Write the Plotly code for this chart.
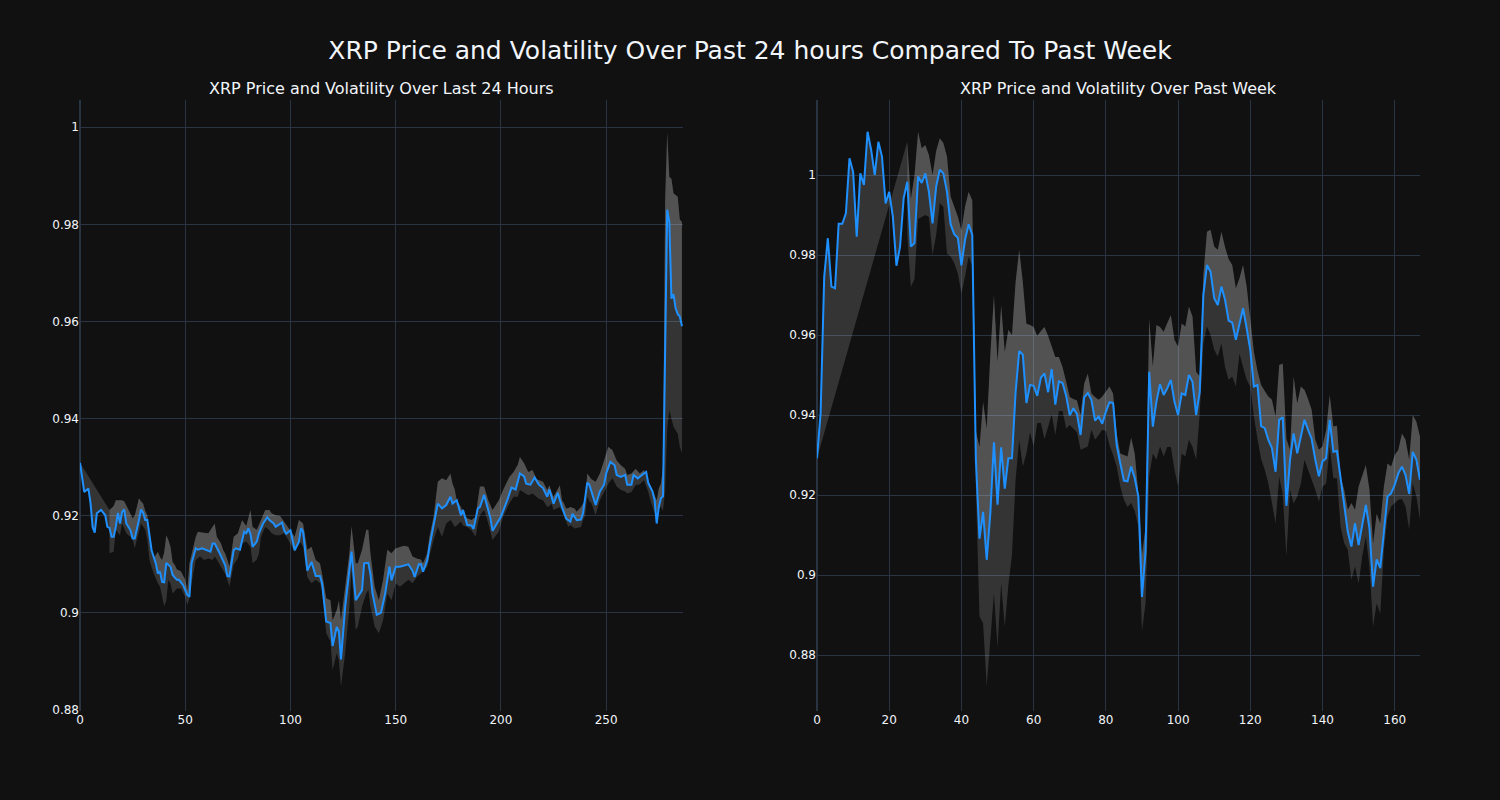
import plotly.graph_objects as go
from plotly.subplots import make_subplots

# ---------------- Last 24 hours (left) ----------------
day_x = [0, 2, 4, 5, 6, 7, 8, 10, 12, 13, 14, 15, 16, 17, 18, 19, 20, 21, 22, 24, 25, 26, 28, 29, 30, 31, 32,
         34, 36, 37, 38, 39, 40, 41, 43, 44, 46, 47, 49, 51, 52, 53, 55, 56, 58, 60, 62, 63, 64, 66, 67, 69, 70,
         71, 73, 74, 76, 78, 79, 80, 81, 82, 84, 85, 87, 89, 90, 92, 93, 96, 97, 98, 100, 102, 104, 105, 106,
         108, 110, 112, 114, 115, 117, 119, 120, 122, 123, 124, 126, 129, 131, 134, 135, 137, 138, 139, 141,
         143, 145, 147, 148, 150, 152, 156, 158, 159, 161, 162, 163, 165, 166, 168, 170, 172, 174, 176, 177,
         179, 181, 182, 184, 186, 187, 189, 190, 192, 194, 195, 196, 198, 200, 203, 205, 207, 209, 211, 212,
         214, 216, 218, 220, 222, 223, 225, 227, 229, 231, 233, 234, 236, 238, 239, 241, 242, 244, 245, 247,
         249, 250, 252, 254, 255, 257, 259, 260, 262, 263, 265, 267, 269, 270, 272, 273, 274, 275, 276, 277,
         279, 280, 281, 282, 283, 284, 285, 286]
day_price = [0.9309, 0.9249, 0.9256, 0.9226, 0.9177, 0.9165, 0.9205, 0.9212, 0.9201, 0.9177, 0.9175, 0.9157,
             0.9157, 0.9177, 0.9206, 0.9184, 0.9208, 0.9213, 0.9184, 0.9170, 0.9153, 0.9153, 0.9191, 0.9213,
             0.9206, 0.9191, 0.9191, 0.9129, 0.9102, 0.9081, 0.9085, 0.9064, 0.9063, 0.9103, 0.9095, 0.9078,
             0.9068, 0.9068, 0.9057, 0.9037, 0.9033, 0.9102, 0.9133, 0.9130, 0.9133, 0.9130, 0.9126, 0.9143,
             0.9143, 0.9126, 0.9116, 0.9098, 0.9076, 0.9075, 0.9129, 0.9133, 0.9130, 0.9167, 0.9164, 0.9174,
             0.9162, 0.9136, 0.9147, 0.9164, 0.9184, 0.9197, 0.9191, 0.9184, 0.9177, 0.9186, 0.9170, 0.9163,
             0.9170, 0.9129, 0.9146, 0.9174, 0.9167, 0.9087, 0.9105, 0.9076, 0.9076, 0.9061, 0.8982, 0.8979,
             0.8932, 0.8971, 0.8962, 0.8904, 0.9013, 0.9126, 0.9026, 0.9047, 0.9102, 0.9103, 0.9080, 0.9040,
             0.8996, 0.9000, 0.9040, 0.9095, 0.9067, 0.9095, 0.9095, 0.9100, 0.9087, 0.9074, 0.9100, 0.9100,
             0.9085, 0.9108, 0.9136, 0.9181, 0.9225, 0.9215, 0.9222, 0.9239, 0.9225, 0.9232, 0.9201, 0.9212,
             0.9181, 0.9180, 0.9173, 0.9215, 0.9218, 0.9243, 0.9212, 0.9195, 0.9169, 0.9184, 0.9198, 0.9232,
             0.9258, 0.9254, 0.9287, 0.9281, 0.9266, 0.9264, 0.9279, 0.9264, 0.9257, 0.9239, 0.9254, 0.9225,
             0.9247, 0.9218, 0.9194, 0.9188, 0.9204, 0.9191, 0.9192, 0.9205, 0.9268, 0.9264, 0.9239, 0.9222,
             0.9250, 0.9264, 0.9287, 0.9311, 0.9304, 0.9284, 0.9280, 0.9284, 0.9264, 0.9264, 0.9284, 0.9277,
             0.9284, 0.9290, 0.9267, 0.9250, 0.9232, 0.9184, 0.9218, 0.9236, 0.9240, 0.9830, 0.9805, 0.9647,
             0.9656, 0.9627, 0.9615, 0.9610, 0.9590, 0.9568]

day_band_x = [14, 16, 17, 19, 20, 21, 22, 23, 25, 26, 28, 29, 30, 31, 32, 33, 34, 35, 37, 38, 39, 40, 41, 42,
              43, 44, 45, 46, 47, 48, 50, 51, 52, 53, 55, 56, 57, 59, 61, 63, 64, 65, 66, 67, 68, 69, 70, 71,
              73, 75, 77, 79, 81, 82, 84, 85, 86, 88, 90, 91, 93, 95, 97, 99, 102, 104, 106, 108, 110, 112,
              114, 115, 117, 119, 120, 122, 123, 124, 126, 128, 129, 131, 132, 134, 136, 137, 138, 140, 142,
              144, 146, 148, 150, 152, 154, 156, 158, 160, 162, 163, 165, 166, 168, 170, 172, 174, 176, 177,
              178, 179, 181, 182, 184, 186, 188, 189, 190, 192, 194, 196, 199, 201, 204, 206, 208, 209, 211,
              213, 215, 217, 218, 220, 222, 223, 224, 225, 228, 229, 230, 231, 232, 233, 235, 236, 238, 239,
              240, 241, 242, 243, 245, 247, 249, 251, 253, 255, 257, 259, 260, 262, 264, 266, 268, 270, 271,
              273, 274, 275, 276, 277, 278, 279, 280, 281, 282, 284, 285, 286]
day_upper = [0.9212, 0.9220, 0.9232, 0.9232, 0.9232, 0.9230, 0.9222, 0.9212, 0.9195, 0.9200, 0.9236, 0.9230,
             0.9225, 0.9210, 0.9201, 0.9165, 0.9133, 0.9112, 0.9126, 0.9115, 0.9109, 0.9125, 0.9160, 0.9150,
             0.9136, 0.9105, 0.9099, 0.9090, 0.9088, 0.9085, 0.9068, 0.9047, 0.9102, 0.9120, 0.9157, 0.9167,
             0.9166, 0.9165, 0.9164, 0.9177, 0.9184, 0.9157, 0.9150, 0.9143, 0.9130, 0.9122, 0.9110, 0.9095,
             0.9157, 0.9164, 0.9191, 0.9179, 0.9212, 0.9177, 0.9171, 0.9180, 0.9191, 0.9212, 0.9212, 0.9205,
             0.9201, 0.9200, 0.9188, 0.9174, 0.9157, 0.9191, 0.9184, 0.9130, 0.9136, 0.9109, 0.9102, 0.9081,
             0.9030, 0.9026, 0.8985, 0.9006, 0.9026, 0.8985, 0.9054, 0.9123, 0.9179, 0.9102, 0.9102, 0.9130,
             0.9171, 0.9171, 0.9123, 0.9054, 0.9026, 0.9068, 0.9130, 0.9123, 0.9133, 0.9136, 0.9138, 0.9136,
             0.9116, 0.9112, 0.9110, 0.9102, 0.9123, 0.9157, 0.9198, 0.9270, 0.9277, 0.9273, 0.9287, 0.9266,
             0.9255, 0.9232, 0.9218, 0.9205, 0.9195, 0.9191, 0.9198, 0.9232, 0.9260, 0.9260, 0.9232, 0.9212,
             0.9232, 0.9253, 0.9280, 0.9290, 0.9305, 0.9321, 0.9308, 0.9290, 0.9294, 0.9275, 0.9273, 0.9270,
             0.9253, 0.9263, 0.9250, 0.9239, 0.9263, 0.9232, 0.9225, 0.9215, 0.9216, 0.9218, 0.9215, 0.9208,
             0.9218, 0.9225, 0.9232, 0.9287, 0.9280, 0.9275, 0.9270, 0.9287, 0.9314, 0.9342, 0.9335, 0.9314,
             0.9304, 0.9297, 0.9284, 0.9287, 0.9297, 0.9287, 0.9294, 0.9273, 0.9260, 0.9240, 0.9232, 0.9256,
             0.9266, 0.9300, 0.9850, 0.9990, 0.9898, 0.9894, 0.9864, 0.9857, 0.9810, 0.9805]
day_lower = [0.9123, 0.9126, 0.9171, 0.9160, 0.9184, 0.9175, 0.9164, 0.9160, 0.9153, 0.9133, 0.9164, 0.9184,
             0.9178, 0.9171, 0.9150, 0.9109, 0.9095, 0.9081, 0.9061, 0.9054, 0.9035, 0.9013, 0.9026, 0.9068,
             0.9060, 0.9040, 0.9045, 0.9050, 0.9050, 0.9050, 0.9033, 0.9016, 0.9030, 0.9061, 0.9109, 0.9112,
             0.9116, 0.9109, 0.9112, 0.9109, 0.9116, 0.9110, 0.9102, 0.9095, 0.9088, 0.9080, 0.9068, 0.9054,
             0.9099, 0.9112, 0.9143, 0.9147, 0.9136, 0.9102, 0.9110, 0.9122, 0.9157, 0.9177, 0.9170, 0.9164,
             0.9160, 0.9160, 0.9164, 0.9150, 0.9126, 0.9150, 0.9136, 0.9074, 0.9061, 0.9068, 0.9061, 0.9047,
             0.8958, 0.8941, 0.8882, 0.8917, 0.8903, 0.8848, 0.8917, 0.9013, 0.9088, 0.8965, 0.8972, 0.9013,
             0.9040, 0.9047, 0.9013, 0.8972, 0.8958, 0.8985, 0.9040, 0.9026, 0.9061, 0.9054, 0.9061, 0.9068,
             0.9061, 0.9074, 0.9081, 0.9085, 0.9095, 0.9116, 0.9150, 0.9177, 0.9157, 0.9184, 0.9191, 0.9185,
             0.9177, 0.9180, 0.9188, 0.9180, 0.9177, 0.9170, 0.9157, 0.9184, 0.9201, 0.9212, 0.9184, 0.9150,
             0.9167, 0.9198, 0.9225, 0.9239, 0.9239, 0.9253, 0.9248, 0.9242, 0.9246, 0.9239, 0.9235, 0.9232,
             0.9218, 0.9220, 0.9225, 0.9212, 0.9218, 0.9210, 0.9198, 0.9185, 0.9177, 0.9181, 0.9174, 0.9175,
             0.9177, 0.9191, 0.9200, 0.9239, 0.9230, 0.9225, 0.9201, 0.9232, 0.9249, 0.9266, 0.9277, 0.9260,
             0.9253, 0.9250, 0.9246, 0.9249, 0.9263, 0.9265, 0.9273, 0.9249, 0.9232, 0.9205, 0.9212, 0.9215,
             0.9218, 0.9210, 0.9250, 0.9380, 0.9417, 0.9400, 0.9383, 0.9369, 0.9342, 0.9328]

# ---------------- Past week (right) ----------------
week_x = list(range(0, 168))
week_price = [0.9292, 0.9404, 0.9746, 0.9842, 0.9721, 0.9717, 0.9878, 0.9878, 0.9904, 1.0042,
              1.0008, 0.9846, 1.0004, 0.9975, 1.0108, 1.0063, 1.0000, 1.0083, 1.0046, 0.9929,
              0.9958, 0.9896, 0.9773, 0.9821, 0.9942, 0.9983, 0.9821, 0.9830, 0.9996, 0.9980,
              1.0004, 0.9958, 0.9879, 0.9971, 1.0013, 1.0004, 0.9958, 0.9877, 0.9852, 0.9843,
              0.9774, 0.9838, 0.9877, 0.9850, 0.9288, 0.9091, 0.9158, 0.9038, 0.9154, 0.9332,
              0.9176, 0.9319, 0.9216, 0.9292, 0.9292, 0.9457, 0.9560, 0.9551, 0.9430, 0.9475,
              0.9473, 0.9448, 0.9493, 0.9504, 0.9457, 0.9515, 0.9426, 0.9484, 0.9480, 0.9448,
              0.9399, 0.9417, 0.9402, 0.9350, 0.9444, 0.9455, 0.9438, 0.9386, 0.9396, 0.9378,
              0.9408, 0.9432, 0.9430, 0.9325, 0.9279, 0.9236, 0.9234, 0.9271, 0.9242, 0.9196,
              0.8945, 0.9060, 0.9508, 0.9371, 0.9433, 0.9477, 0.9450, 0.9467, 0.9488, 0.9433,
              0.9400, 0.9454, 0.9450, 0.9500, 0.9483, 0.9400, 0.9458, 0.9700, 0.9775, 0.9758,
              0.9692, 0.9675, 0.9721, 0.9688, 0.9636, 0.9631, 0.9588, 0.9625, 0.9667, 0.9617,
              0.9563, 0.9471, 0.9475, 0.9372, 0.9367, 0.9338, 0.9317, 0.9258, 0.9388, 0.9394,
              0.9173, 0.9288, 0.9354, 0.9304, 0.9346, 0.9388, 0.9363, 0.9340, 0.9288, 0.9247,
              0.9284, 0.9292, 0.9388, 0.9308, 0.9310, 0.9246, 0.9179, 0.9108, 0.9071, 0.9129,
              0.9075, 0.9129, 0.9175, 0.9117, 0.8971, 0.9039, 0.9017, 0.9108, 0.9196, 0.9204,
              0.9225, 0.9254, 0.9271, 0.9250, 0.9203, 0.9308, 0.9288, 0.9238]

week_band_x = list(range(25, 168))
week_upper = [1.0083, 0.9940, 1.0000, 1.0108, 1.0067, 1.0075, 1.0050, 1.0000, 1.0060, 1.0092,
              1.0080, 1.0046, 0.9946, 0.9921, 0.9896, 0.9862, 0.9921, 0.9958, 0.9937, 0.9360,
              0.9320, 0.9433, 0.9367, 0.9550, 0.9700, 0.9533, 0.9675, 0.9558, 0.9613, 0.9600,
              0.9733, 0.9813, 0.9733, 0.9628, 0.9625, 0.9620, 0.9598, 0.9610, 0.9620, 0.9598,
              0.9570, 0.9545, 0.9545, 0.9520, 0.9484, 0.9445, 0.9440, 0.9436, 0.9400, 0.9479,
              0.9504, 0.9454, 0.9445, 0.9438, 0.9446, 0.9460, 0.9471, 0.9454, 0.9354, 0.9304,
              0.9300, 0.9296, 0.9344, 0.9304, 0.9204, 0.9050, 0.9120, 0.9642, 0.9521, 0.9625,
              0.9620, 0.9608, 0.9630, 0.9650, 0.9588, 0.9571, 0.9629, 0.9621, 0.9671, 0.9646,
              0.9508, 0.9496, 0.9750, 0.9858, 0.9863, 0.9821, 0.9813, 0.9858, 0.9820, 0.9790,
              0.9775, 0.9717, 0.9742, 0.9775, 0.9721, 0.9638, 0.9558, 0.9510, 0.9475, 0.9460,
              0.9446, 0.9438, 0.9396, 0.9525, 0.9529, 0.9340, 0.9313, 0.9496, 0.9429, 0.9471,
              0.9463, 0.9440, 0.9413, 0.9338, 0.9313, 0.9321, 0.9363, 0.9450, 0.9371, 0.9373,
              0.9246, 0.9213, 0.9163, 0.9180, 0.9163, 0.9221, 0.9250, 0.9275, 0.9213, 0.9079,
              0.9154, 0.9129, 0.9221, 0.9279, 0.9271, 0.9300, 0.9313, 0.9354, 0.9338, 0.9288,
              0.9400, 0.9383, 0.9346]
week_lower = [0.9850, 0.9720, 0.9740, 0.9890, 0.9895, 0.9900, 0.9895, 0.9800, 0.9850, 0.9930,
              0.9920, 0.9804, 0.9796, 0.9780, 0.9754, 0.9704, 0.9746, 0.9796, 0.9771, 0.9220,
              0.8896, 0.8879, 0.8721, 0.8840, 0.8954, 0.8820, 0.8979, 0.8871, 0.8975, 0.9050,
              0.9238, 0.9338, 0.9271, 0.9304, 0.9357, 0.9321, 0.9380, 0.9380, 0.9340, 0.9370,
              0.9402, 0.9350, 0.9410, 0.9410, 0.9366, 0.9375, 0.9365, 0.9357, 0.9313, 0.9317,
              0.9321, 0.9363, 0.9338, 0.9350, 0.9363, 0.9360, 0.9325, 0.9300, 0.9271, 0.9221,
              0.9188, 0.9170, 0.9180, 0.9160, 0.9120, 0.8860, 0.8930, 0.9246, 0.9304, 0.9288,
              0.9321, 0.9296, 0.9320, 0.9320, 0.9263, 0.9221, 0.9304, 0.9296, 0.9338, 0.9320,
              0.9288, 0.9404, 0.9579, 0.9621, 0.9600, 0.9563, 0.9546, 0.9579, 0.9520, 0.9488,
              0.9496, 0.9471, 0.9554, 0.9520, 0.9488, 0.9471, 0.9396, 0.9340, 0.9290, 0.9263,
              0.9229, 0.9180, 0.9129, 0.9246, 0.9200, 0.9046, 0.9213, 0.9179, 0.9196, 0.9229,
              0.9288, 0.9263, 0.9240, 0.9213, 0.9183, 0.9221, 0.9229, 0.9321, 0.9242, 0.9242,
              0.9121, 0.9080, 0.9063, 0.8988, 0.9021, 0.8979, 0.9046, 0.9096, 0.9021, 0.8871,
              0.8929, 0.8904, 0.9063, 0.9146, 0.9171, 0.9180, 0.9188, 0.9190, 0.9171, 0.9113,
              0.9229, 0.9196, 0.9138]

LINE = "#1E90FF"
FILL = "rgba(255,255,255,0.15)"

fig = make_subplots(rows=1, cols=2, horizontal_spacing=0.1,
                    subplot_titles=("XRP Price and Volatility Over Last 24 Hours",
                                    "XRP Price and Volatility Over Past Week"))

for col, (px_, py_, bx, bu, bl) in enumerate([
        (day_x, day_price, day_band_x, day_upper, day_lower),
        (week_x, week_price, week_band_x, week_upper, week_lower)], start=1):
    fig.add_trace(go.Scatter(x=px_, y=py_, mode="lines", line=dict(width=0, color=LINE),
                             showlegend=False, hoverinfo="skip"), row=1, col=col)
    fig.add_trace(go.Scatter(x=bx, y=bu, mode="lines", line=dict(width=0),
                             fill="tonexty", fillcolor=FILL, showlegend=False), row=1, col=col)
    fig.add_trace(go.Scatter(x=bx, y=bl, mode="lines", line=dict(width=0),
                             fill="tonexty", fillcolor=FILL, showlegend=False), row=1, col=col)
    fig.add_trace(go.Scatter(x=px_, y=py_, mode="lines", line=dict(width=2, color=LINE),
                             showlegend=False), row=1, col=col)

fig.update_layout(
    template="plotly_dark",
    width=1500, height=800,
    font=dict(family="DejaVu Sans"),
    margin=dict(l=80, r=80, t=100, b=89),
    title=dict(text="XRP Price and Volatility Over Past 24 hours Compared To Past Week",
               x=0.5, xanchor="center", y=0.9375, yanchor="middle",
               font=dict(size=25, family="DejaVu Sans")),
    showlegend=False,
)
fig.update_annotations(font=dict(size=16, family="DejaVu Sans"))
fig.update_xaxes(range=[0, 286.5], tickvals=[0, 50, 100, 150, 200, 250], row=1, col=1)
fig.update_xaxes(range=[0, 167], tickvals=[0, 20, 40, 60, 80, 100, 120, 140, 160], row=1, col=2)
fig.update_yaxes(range=[0.8798, 1.0056], tickvals=[0.88, 0.9, 0.92, 0.94, 0.96, 0.98, 1],
                 ticktext=["0.88", "0.9", "0.92", "0.94", "0.96", "0.98", "1"], row=1, col=1)
fig.update_yaxes(range=[0.866, 1.01875], tickvals=[0.88, 0.9, 0.92, 0.94, 0.96, 0.98, 1],
                 ticktext=["0.88", "0.9", "0.92", "0.94", "0.96", "0.98", "1"], row=1, col=2)

fig.write_html("out.html")
